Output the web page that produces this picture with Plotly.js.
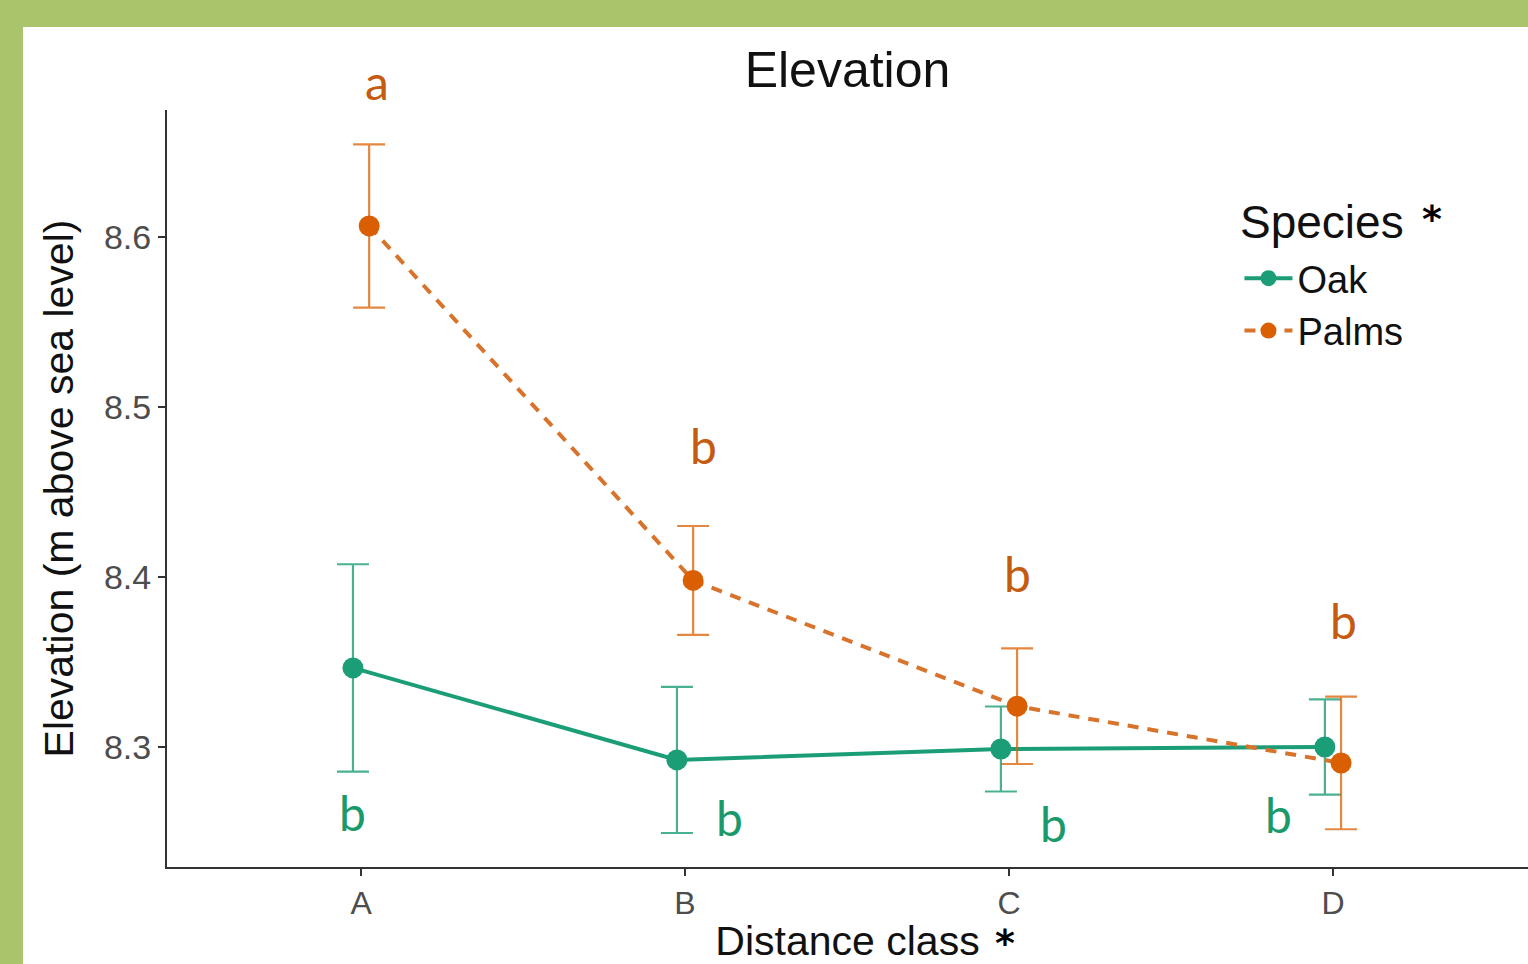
<!DOCTYPE html>
<html>
<head>
<meta charset="utf-8">
<script src="https://cdn.plot.ly/plotly-3.0.1.min.js"></script>
<style>
  html, body { margin: 0; padding: 0; width: 1528px; height: 964px; overflow: hidden; background: #aac46b; }
  #chart { position: absolute; left: 23px; top: 27px; width: 1505px; height: 937px; background: #ffffff; }
</style>
</head>
<body>
<div id="chart"></div>
<script>
// ---- data ----
const categories = ["A", "B", "C", "D"];
const oakMean = [8.3465, 8.2924, 8.2988, 8.3000];
const oakErr  = [0.061, 0.043, 0.025, 0.028];
const palmsMean = [8.6065, 8.3980, 8.3240, 8.2906];
const palmsErr  = [0.048, 0.032, 0.034, 0.039];
const oakLetters = ["b", "b", "b", "b"];
const palmsLetters = ["a", "b", "b", "b"];
const legendTitle = "Species";

const green = "#1b9e77";
const orange = "#d95f02";
const letterGreen = "#1a9a6a";
const letterOrange = "#c55a11";
const dodge = 0.025;

const idx = categories.map((c, i) => i);
const oakX = idx.map(i => i - dodge);
const palmsX = idx.map(i => i + dodge);

const traces = [
  {
    type: "scatter", mode: "lines+markers", name: "Oak",
    x: oakX, y: oakMean,
    line: { color: green, width: 4 },
    marker: { color: green, size: 21 },
    error_y: { type: "data", array: oakErr, visible: true, color: "rgba(27,158,119,0.8)", thickness: 2.2, width: 16 }
  },
  {
    type: "scatter", mode: "lines+markers", name: "Palms",
    x: palmsX, y: palmsMean,
    line: { color: "#d8732c", width: 4, dash: "11px,9px" },
    marker: { color: orange, size: 21 },
    error_y: { type: "data", array: palmsErr, visible: true, color: "rgba(217,95,2,0.75)", thickness: 2.2, width: 16 }
  }
];

// letter annotations (placed relative to data points)
const oakLetterOffsets = [[0, -145], [53, -58], [53, -74], [-46, -68]];
const palmsLetterOffsets = [[8, 144], [10, 135], [0, 133], [2, 142]];
const annotations = [];
idx.forEach(i => {
  annotations.push({
    x: oakX[i], y: oakMean[i], xref: "x", yref: "y", text: oakLetters[i], showarrow: false,
    xshift: oakLetterOffsets[i][0], yshift: oakLetterOffsets[i][1],
    font: { family: "Lato, 'Open Sans', sans-serif", size: 48, color: letterGreen }
  });
  annotations.push({
    x: palmsX[i], y: palmsMean[i], xref: "x", yref: "y", text: palmsLetters[i], showarrow: false,
    xshift: palmsLetterOffsets[i][0], yshift: palmsLetterOffsets[i][1],
    font: { family: "Lato, 'Open Sans', sans-serif", size: 48, color: letterOrange }
  });
});
// legend title
annotations.push({ xref: "paper", yref: "paper", x: 0.7869, y: 0.852, xanchor: "left", yanchor: "middle",
  text: legendTitle, showarrow: false,
  font: { family: "Liberation Sans, Arial, sans-serif", size: 46, color: "#111" } });
// asterisks
annotations.push({ xref: "paper", yref: "paper", x: 0.6157, y: -0.1, xanchor: "center", yanchor: "middle",
  text: "<b>*</b>", showarrow: false,
  font: { family: "DejaVu Sans, sans-serif", size: 38, color: "#000" } });
annotations.push({ xref: "paper", yref: "paper", x: 0.9293, y: 0.856, xanchor: "center", yanchor: "middle",
  text: "<b>*</b>", showarrow: false,
  font: { family: "DejaVu Sans, sans-serif", size: 38, color: "#000" } });

const layout = {
  width: 1505, height: 937,
  margin: { l: 144, r: 0, t: 83, b: 97 },
  paper_bgcolor: "rgba(0,0,0,0)",
  plot_bgcolor: "rgba(0,0,0,0)",
  font: { family: "Liberation Sans, Arial, sans-serif", color: "#000" },
  title: { text: "Elevation", x: 0.5, xref: "paper", xanchor: "center",
    y: 0.955, yref: "container", yanchor: "middle",
    font: { family: "Liberation Sans, Arial, sans-serif", size: 50, color: "#111" } },
  xaxis: {
    range: [-0.599, 3.602],
    tickmode: "array", tickvals: idx, ticktext: categories,
    showgrid: false, zeroline: false,
    showline: true, linecolor: "#333", linewidth: 2,
    ticks: "outside", ticklen: 7, tickwidth: 2, tickcolor: "#333",
    tickfont: { family: "Liberation Sans, Arial, sans-serif", size: 32, color: "#4d4d4d" },
    title: { text: "Distance class", standoff: 10,
      font: { family: "Liberation Sans, Arial, sans-serif", size: 41, color: "#111" } }
  },
  yaxis: {
    range: [8.2294, 8.6747],
    tickmode: "array", tickvals: [8.3, 8.4, 8.5, 8.6], ticktext: ["8.3", "8.4", "8.5", "8.6"],
    showgrid: false, zeroline: false,
    showline: true, linecolor: "#333", linewidth: 2,
    ticks: "outside", ticklen: 7, tickwidth: 2, tickcolor: "#333",
    tickfont: { family: "Liberation Sans, Arial, sans-serif", size: 34, color: "#4d4d4d" },
    title: { text: "Elevation (m above sea level)", standoff: 18,
      font: { family: "Liberation Sans, Arial, sans-serif", size: 41, color: "#111" } }
  },
  showlegend: true,
  legend: {
    x: 0.788, y: 0.819, xanchor: "left", yanchor: "top",
    bgcolor: "rgba(0,0,0,0)", borderwidth: 0,
    traceorder: "normal",
    font: { family: "Liberation Sans, Arial, sans-serif", size: 38, color: "#111" },
    itemwidth: 48
  },
  annotations: annotations
};

Plotly.newPlot("chart", traces, layout, { displayModeBar: false, responsive: false });
</script>
</body>
</html>
